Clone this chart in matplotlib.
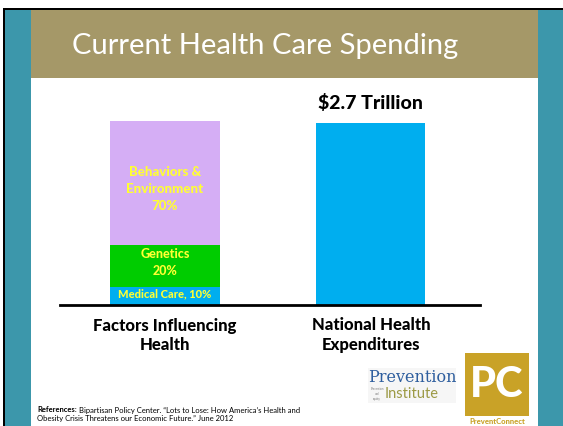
import matplotlib
matplotlib.use("Agg")
from matplotlib import pyplot as plt
from matplotlib.patches import Rectangle

# data
categories = ["Factors Influencing\nHealth", "National Health\nExpenditures"]
factor_names = ["Medical Care, 10%", "Genetics\n20%", "Behaviors &\nEnvironment\n70%"]
factor_heights = [10, 22.5, 67.5]
factor_colors = ["#00AEEF", "#00CC00", "#D5AEF5"]
spending_height = [99]
spending_label = "$2.7 Trillion"

W, H = 563, 426
fig = plt.figure(figsize=(W / 100, H / 100), dpi=100)
fig.patch.set_facecolor("white")
plt.rcParams['font.family'] = ['Lato', 'DejaVu Sans']


def box(x0, y0, x1, y1, color, z=0):
    # rectangle given in pixel coords (top-left origin)
    fig.add_artist(Rectangle((x0 / W, 1 - y1 / H), (x1 - x0) / W, (y1 - y0) / H,
                             transform=fig.transFigure, facecolor=color,
                             edgecolor="none", zorder=z))


def txt(x, y, s, **kw):
    return fig.text(x / W, 1 - y / H, s, **kw)


# slide frame
box(3, 8, 563, 10, "black")
box(3, 8, 5, 426, "black")
box(5, 10, 31, 426, "#3C97AB")
box(538, 10, 563, 426, "#3C97AB")
box(31, 10, 538, 78, "#A59868")
txt(265, 46, "Current Health Care Spending", color="white", fontsize=21,
    ha="center", va="center")

# chart
ax = fig.add_axes([60 / W, 1 - 305 / H, 420 / W, 184 / H])
ax.set_xlim(-0.51, 1.53)
ax.set_ylim(0, 100)
bottom = 0
for h, c in zip(factor_heights, factor_colors):
    ax.bar(0, h, bottom=bottom, width=0.53, color=c, zorder=2)
    bottom += h
ax.bar(1, spending_height, width=0.53, color="#00AEEF", zorder=2)

# segment labels
seg_style = dict(ha="center", va="center", color="#FFFF33", fontweight="black")
ax.text(0, 6.3, factor_names[0], fontsize=8, **seg_style)
ax.text(0, 23.2, factor_names[1], fontsize=9, linespacing=1.55, **seg_style)
ax.text(0, 63.3, factor_names[2], fontsize=9.5, linespacing=1.5, **seg_style)
ax.text(1, spending_height[0] + 11, spending_label, ha="center", va="center",
        fontsize=14, fontweight="black", color="black")

for s in ["top", "right", "left"]:
    ax.spines[s].set_visible(False)
ax.spines["bottom"].set_linewidth(2)
ax.set_yticks([])
ax.set_xticks([0, 1])
ax.set_xticklabels(categories, fontsize=12, fontweight="black", linespacing=1.3)
ax.tick_params(axis="x", length=0, pad=9)
ax.patch.set_alpha(0)

# references
ref_head = txt(37, 410, "References:", fontsize=5.5, fontweight="bold", va="center")
renderer = fig.canvas.get_renderer()
head_end = ref_head.get_window_extent(renderer).x1
txt(head_end + 2, 410, "Bipartisan Policy Center. \u201cLots to Lose: How America\u2019s Health and",
    fontsize=5.5, va="center")
txt(37, 419, "Obesity Crisis Threatens our Economic Future.\u201d June 2012",
    fontsize=5.5, va="center")

# Prevention Institute logo
box(368, 368, 456, 403, "#F6F6F6")
txt(412, 377, "Prevention", color="#2E5E9E", fontsize=11.5, ha="center",
    va="center", family=["DejaVu Serif"])
txt(412, 394, "Institute", color="#9C9A45", fontsize=10.5, ha="center",
    va="center")
txt(377, 394, "Prevention\nand\nequity", color="#777777", fontsize=2,
    ha="center", va="center")

# PreventConnect logo
box(465, 353, 529, 416, "#C9A227")
txt(497, 385, "PC", color="white", fontsize=30, fontweight="black",
    ha="center", va="center")
txt(497, 421, "PreventConnect", color="#C9A227", fontsize=5.5,
    fontweight="black", ha="center", va="center")

fig.savefig("out.png", dpi=100)
